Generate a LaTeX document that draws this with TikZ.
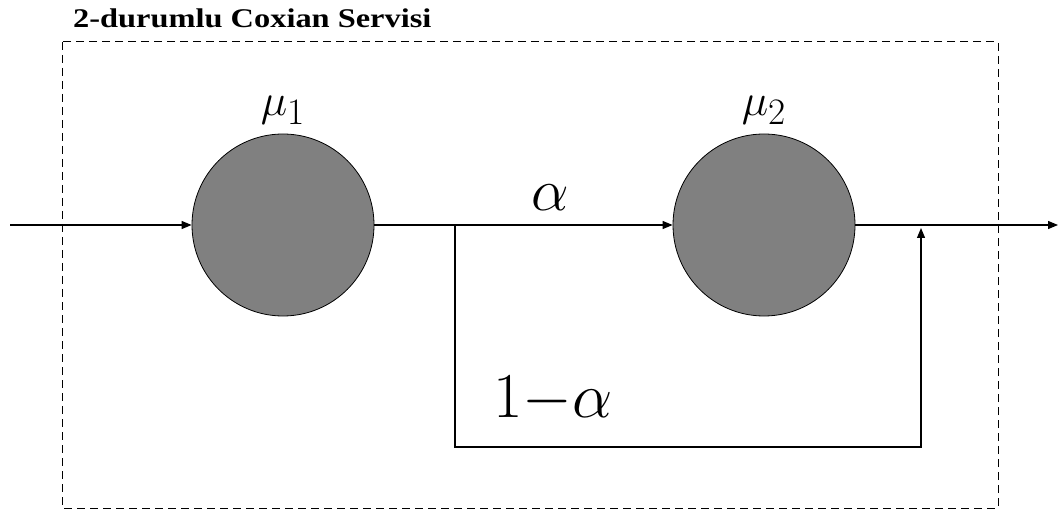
\documentclass[tikz,border=0pt]{standalone}
\usepackage{fontspec}
\setmainfont{Liberation Serif}
\newfontfamily\titlefont[FakeStretch=1.2]{Liberation Serif}
\usetikzlibrary{arrows.meta, positioning, calc}

\newcommand{\biglbl}[2]{\scalebox{#1}{\fontsize{24.88}{30}\selectfont$#2$}}

\begin{document}
\begin{tikzpicture}[
  x=1pt, y=-1pt,
  station/.style={circle, draw=black, line width=0.8pt, fill=black!50,
    minimum size=182pt, inner sep=0pt},
  flow/.style={line width=1.2pt},
  lbl/.style={inner sep=0pt},
  >={Triangle[length=10pt, width=8pt]}
]
  \useasboundingbox (0,0) rectangle (1064,518);

  %% TITLE + DASHED FRAME
  \node[font=\titlefont\bfseries\fontsize{27}{27}\selectfont, anchor=base west, inner sep=0pt]
    (title) at (73,28) {2-durumlu Coxian Servisi};
  \draw[line width=1pt, dash pattern=on 8pt off 5pt] (62,42) rectangle (998,508);

  %% STATIONS
  \node[station] (s1) at (283,225) {};
  \node[station] (s2) at (764,225) {};
  \node[lbl, above=9pt of s1] (mu1) {\biglbl{1.8}{\mu_1}};
  \node[lbl, above=9pt of s2] (mu2) {\biglbl{1.8}{\mu_2}};

  %% BRANCH POINTS
  \coordinate (in)    at (10,225);
  \coordinate (out)   at (1058,225);
  \coordinate (split) at (455,225);
  \coordinate (join)  at (921,225);
  \coordinate (dl)    at (455,447);
  \coordinate (dr)    at (921,447);

  %% FLOWS
  \draw[flow, ->] (in) -- (s1.west);
  \draw[flow] (s1.east) -- (split);
  \draw[flow, ->] (split) -- node[lbl, above=14pt, pos=0.44] (a) {\biglbl{2.4}{\alpha}} (s2.west);
  \draw[flow, ->] (s2.east) -- (out);
  \draw[flow, ->] (split) -- (dl) -- (dr) -- ($(join)+(0,3)$);
  \node[lbl, anchor=base west] (na) at (493,417)
    {\biglbl{2.57}{{1}{-}{\alpha}}};

\end{tikzpicture}
\end{document}
